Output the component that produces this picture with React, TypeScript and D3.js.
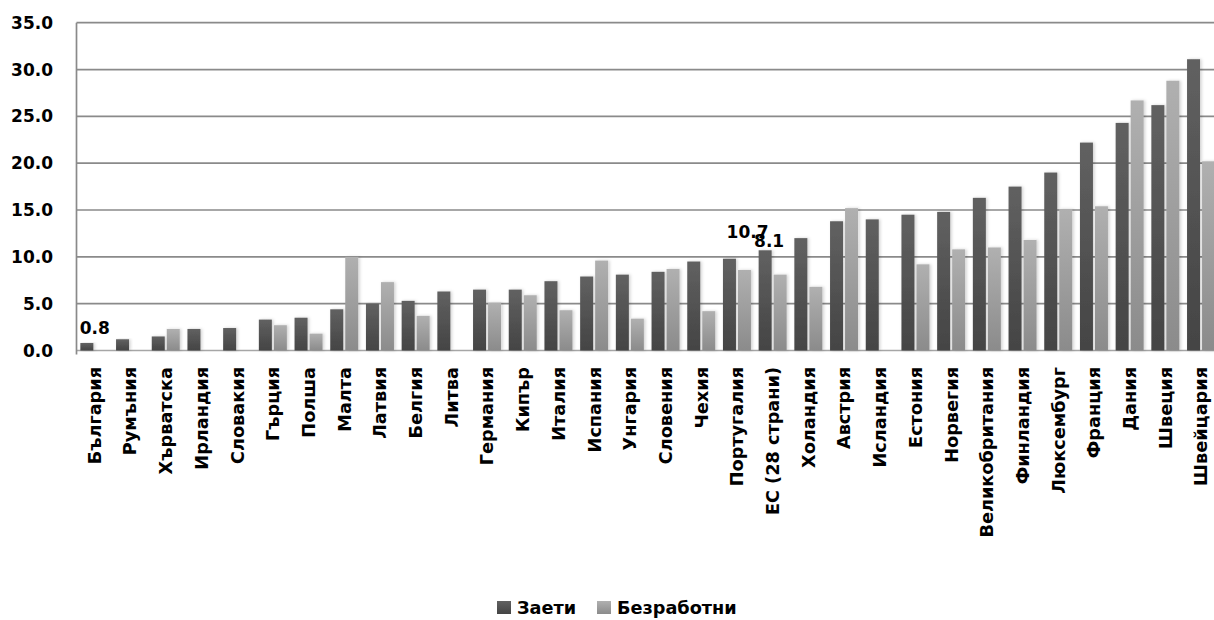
import React from "react";
import * as d3 from "d3";

const categories = [
  "България", "Румъния", "Хърватска", "Ирландия", "Словакия", "Гърция", "Полша", "Малта",
  "Латвия", "Белгия", "Литва", "Германия", "Кипър", "Италия", "Испания", "Унгария",
  "Словения", "Чехия", "Португалия", "ЕС (28 страни)", "Холандия", "Австрия", "Исландия",
  "Естония", "Норвегия", "Великобритания", "Финландия", "Люксембург", "Франция", "Дания",
  "Швеция", "Швейцария",
];

const employed = [
  0.8, 1.2, 1.5, 2.3, 2.4, 3.3, 3.5, 4.4, 5.0, 5.3, 6.3, 6.5, 6.5, 7.4, 7.9, 8.1,
  8.4, 9.5, 9.8, 10.7, 12.0, 13.8, 14.0, 14.5, 14.8, 16.3, 17.5, 19.0, 22.2, 24.3,
  26.2, 31.1,
];

const unemployed = [
  0, 0, 2.3, 0, 0, 2.7, 1.8, 10.0, 7.3, 3.7, 0, 5.1, 5.9, 4.3, 9.6, 3.4,
  8.7, 4.2, 8.6, 8.1, 6.8, 15.2, 0, 9.2, 10.8, 11.0, 11.8, 15.1, 15.4, 26.7,
  28.8, 20.2,
];

const yTicks = [0, 5, 10, 15, 20, 25, 30, 35];
const seriesNames = ["Заети", "Безработни"];

const W = 1214;
const H = 620;
const FONT = "'DejaVu Sans', sans-serif";

export default function App() {
  const left = 76.5;
  const step = 35.7;
  const x0 = d3
    .scaleBand<string>()
    .domain(categories)
    .range([left, left + step * categories.length])
    .paddingInner(7.7 / 35.7)
    .paddingOuter(7.7 / 35.7 / 2);
  const x1 = d3
    .scaleBand<string>()
    .domain(["e", "u"])
    .range([0, x0.bandwidth()])
    .paddingInner(2 / 15)
    .paddingOuter(0);
  const y = d3.scaleLinear().domain([0, 35]).range([350.5, 22.7]);

  const gridColor = "#8a8a8a";

  const euIdx = categories.indexOf("ЕС (28 страни)");
  const bgIdx = 0;

  return (
    <svg
      width={W}
      height={H}
      style={{ position: "absolute", left: 0, top: 0, background: "#fff" }}
      fontFamily={FONT}
    >
      <defs>
        <linearGradient id="gDark" x1="0" y1="0" x2="0" y2="1">
          <stop offset="0%" stopColor="#616161" />
          <stop offset="100%" stopColor="#444444" />
        </linearGradient>
        <linearGradient id="gLight" x1="0" y1="0" x2="0" y2="1">
          <stop offset="0%" stopColor="#b0b0b0" />
          <stop offset="100%" stopColor="#8b8b8b" />
        </linearGradient>
        <filter id="sh" x="-30%" y="-10%" width="160%" height="120%">
          <feDropShadow dx="1.5" dy="0" stdDeviation="1.5" floodColor="#000" floodOpacity="0.18" />
        </filter>
      </defs>

      {/* gridlines */}
      {yTicks.map((t) => (
        <line
          key={t}
          x1={left}
          x2={W}
          y1={y(t)}
          y2={y(t)}
          stroke={t === 0 ? "#a6a6a6" : gridColor}
          strokeWidth={1.7}
        />
      ))}
      <line x1={left} x2={left} y1={y(35)} y2={y(0) + 4} stroke={gridColor} strokeWidth={1.7} />

      {/* y tick labels */}
      {yTicks.map((t) => (
        <text
          key={"l" + t}
          x={53}
          y={y(t)}
          dy="0.36em"
          textAnchor="end"
          fontSize={17}
          fontWeight="bold"
          fill="#000"
        >
          {t.toFixed(1)}
        </text>
      ))}

      {/* bars */}
      {categories.map((c, i) => {
        const gx = x0(c)!;
        return (
          <g key={c} filter="url(#sh)">
            {employed[i] > 0 && (
              <rect
                x={gx + x1("e")!}
                y={y(employed[i])}
                width={x1.bandwidth()}
                height={y(0) - y(employed[i])}
                fill="url(#gDark)"
              />
            )}
            {unemployed[i] > 0 && (
              <rect
                x={gx + x1("u")!}
                y={y(unemployed[i])}
                width={x1.bandwidth()}
                height={y(0) - y(unemployed[i])}
                fill="url(#gLight)"
              />
            )}
          </g>
        );
      })}

      {/* data labels */}
      <text
        x={x0(categories[bgIdx])! + x1("e")! + x1.bandwidth() / 2 + 8}
        y={y(employed[bgIdx]) - 9}
        textAnchor="middle"
        fontSize={17}
        fontWeight="bold"
      >
        {employed[bgIdx].toFixed(1)}
      </text>
      <text
        x={x0(categories[euIdx])! + x1("e")! + x1.bandwidth() / 2 - 17.6}
        y={y(employed[euIdx]) - 12}
        textAnchor="middle"
        fontSize={17}
        fontWeight="bold"
      >
        {employed[euIdx].toFixed(1)}
      </text>
      <text
        x={x0(categories[euIdx])! + x1("u")! + x1.bandwidth() / 2 - 11}
        y={y(unemployed[euIdx]) - 28}
        textAnchor="middle"
        fontSize={17}
        fontWeight="bold"
      >
        {unemployed[euIdx].toFixed(1)}
      </text>

      {/* x labels */}
      {categories.map((c) => {
        const cx = x0(c)! + x0.bandwidth() / 2;
        return (
          <text
            key={"x" + c}
            transform={`translate(${cx},367) rotate(-90)`}
            textAnchor="end"
            dy="0.36em"
            fontSize={17.7}
            fontWeight="bold"
          >
            {c}
          </text>
        );
      })}

      {/* legend */}
      <g>
        <rect x={497} y={601} width={14} height={13} fill="url(#gDark)" />
        <text x={517} y={608} dy="0.36em" fontSize={17.7} fontWeight="bold">
          {seriesNames[0]}
        </text>
        <rect x={597} y={601} width={14} height={13} fill="url(#gLight)" />
        <text x={617} y={608} dy="0.36em" fontSize={17.7} fontWeight="bold">
          {seriesNames[1]}
        </text>
      </g>
    </svg>
  );
}
